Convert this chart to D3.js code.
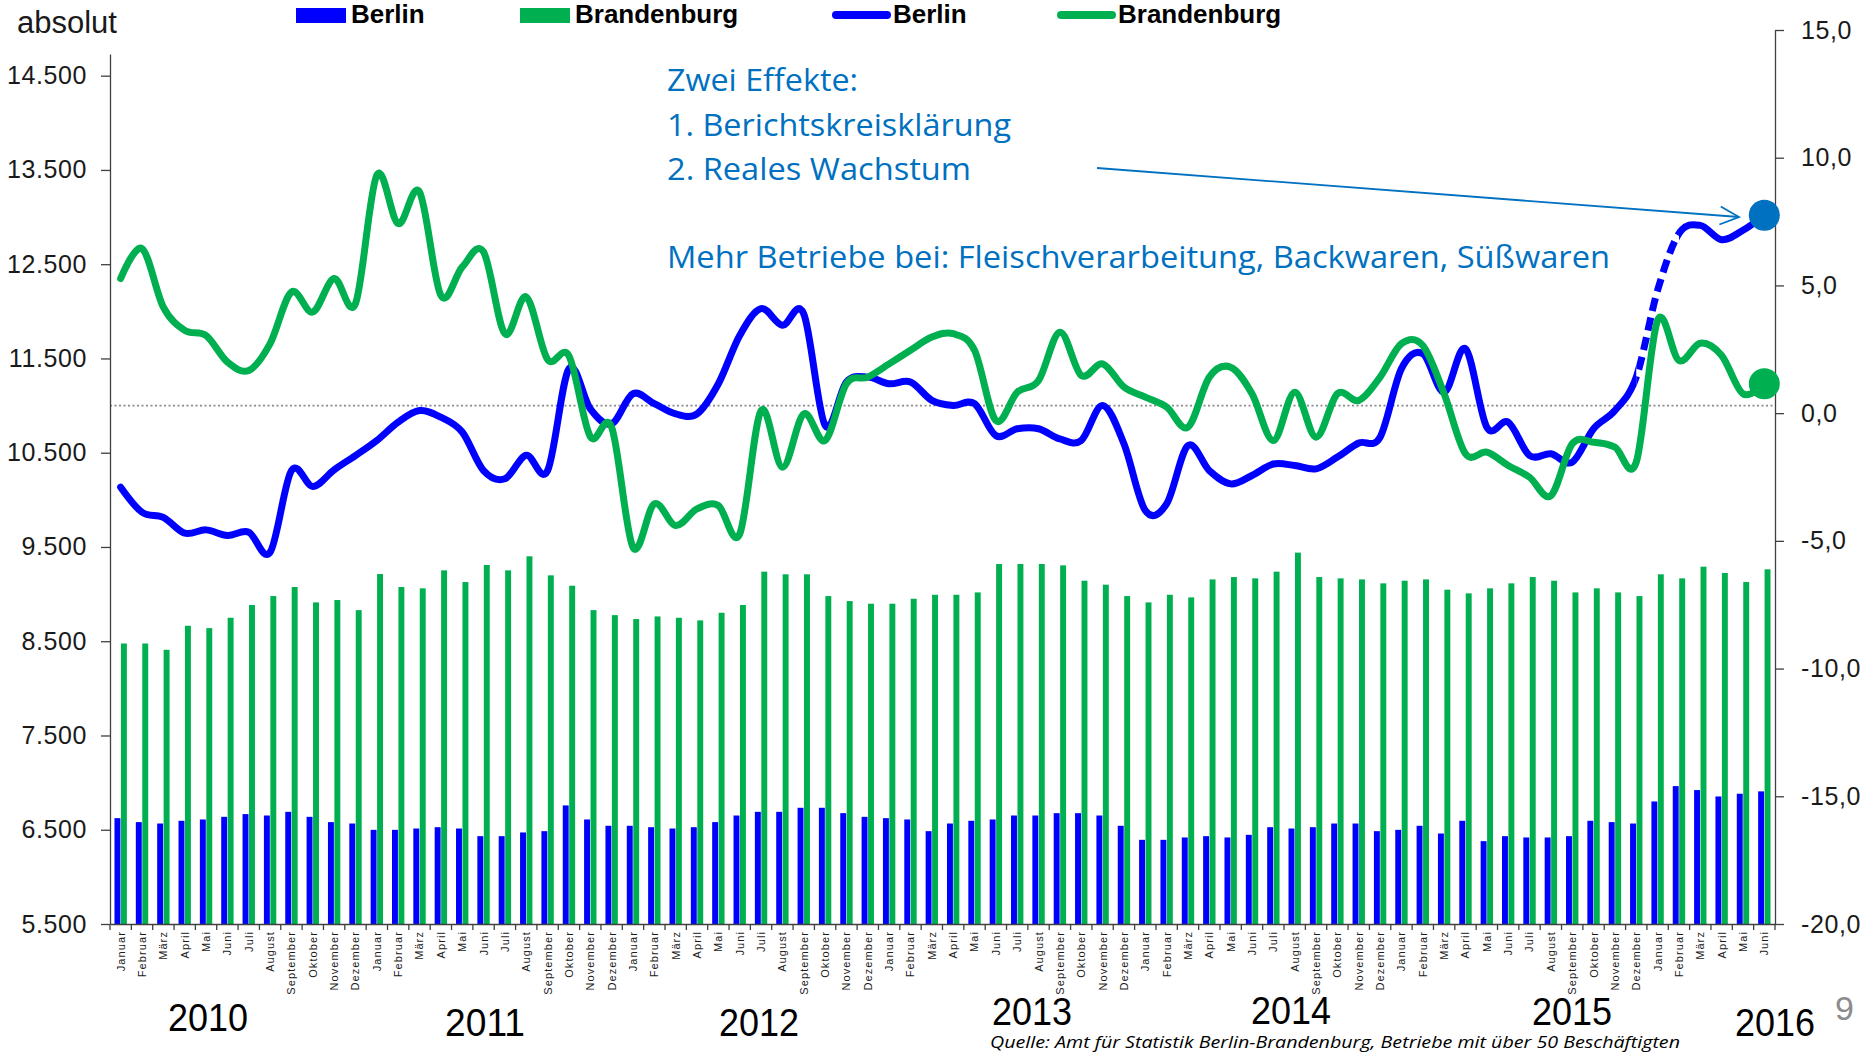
<!DOCTYPE html>
<html><head><meta charset="utf-8">
<script src="https://cdn.jsdelivr.net/npm/d3@7"></script>
<style>
html,body{margin:0;padding:0;background:#fff;}
svg{display:block;}
</style></head><body>
<svg id="chart" width="1872" height="1052"></svg>
<script>
// ---------------- DATA ----------------
const monthNames = ["Januar","Februar","März","April","Mai","Juni","Juli","August","September","Oktober","November","Dezember"];
const yearLabels = ["2010","2011","2012","2013","2014","2015","2016"];
const monthsIn2016 = 6;
const seriesNames = ["Berlin","Brandenburg"];

// absolute values (bars, left axis)
const berlinAbs = [6623,6581,6566,6595,6609,6637,6666,6651,6690,6637,6581,6566,
  6499,6499,6513,6527,6513,6432,6432,6471,6485,6758,6609,6542,
  6542,6527,6513,6527,6581,6651,6690,6690,6733,6733,6676,6637,
  6623,6609,6485,6566,6595,6609,6651,6651,6676,6676,6651,6542,
  6393,6393,6418,6432,6418,6446,6527,6513,6527,6566,6566,6485,
  6499,6542,6460,6595,6379,6432,6418,6418,6432,6595,6581,6566,
  6800,6963,6921,6853,6882,6907];
const brandAbs = [8476,8476,8409,8664,8639,8749,8884,8979,9075,8912,8937,8830,
  9213,9075,9061,9252,9128,9309,9252,9401,9199,9089,8830,8777,
  8735,8763,8749,8721,8802,8884,9238,9210,9210,8979,8926,8898,
  8898,8951,8993,8993,9018,9319,9319,9319,9305,9142,9100,8979,
  8912,8993,8965,9156,9181,9167,9238,9440,9181,9167,9156,9114,
  9142,9156,9047,9008,9061,9114,9181,9142,9018,9061,9018,8979,
  9210,9167,9291,9224,9128,9263];

// change in % (lines, right axis)
const berlinPct = [-2.90,-3.88,-4.08,-4.70,-4.57,-4.79,-4.66,-5.45,-2.25,-2.87,-2.22,-1.66,
  -1.07,-0.35,0.10,-0.16,-0.74,-2.25,-2.57,-1.65,-2.25,1.74,0.17,-0.42,
  0.76,0.37,-0.03,-0.03,1.15,3.04,4.09,3.44,3.89,-0.48,1.22,1.41,
  1.15,1.22,0.50,0.30,0.37,-0.88,-0.61,-0.61,-1.01,-1.07,0.30,-1.20,
  -3.81,-3.55,-1.27,-2.25,-2.77,-2.44,-1.99,-2.05,-2.18,-1.72,-1.17,-0.94,
  1.74,2.33,0.82,2.52,-0.55,-0.35,-1.66,-1.59,-1.92,-0.61,0.10,1.41,
  4.81,7.03,7.35,6.79,7.16,7.75];
const brandPct = [5.27,6.44,4.15,3.24,3.04,2.00,1.67,2.72,4.74,3.96,5.27,4.29,
  9.32,7.42,8.66,4.61,5.72,6.31,3.11,4.55,2.10,2.24,-0.92,-0.55,
  -5.25,-3.55,-4.40,-3.75,-3.62,-4.73,0.10,-2.12,-0.03,-1.07,1.15,1.41,
  1.93,2.46,2.98,3.11,2.46,-0.29,0.82,1.28,3.17,1.48,1.93,1.02,
  0.63,0.24,-0.55,1.41,1.80,0.76,-1.07,0.82,-0.94,0.76,0.50,1.41,
  2.72,2.65,0.76,-1.59,-1.53,-2.05,-2.51,-3.23,-1.20,-1.14,-1.33,-1.92,
  3.63,2.06,2.74,2.26,0.76,1.15];
const berlinDashedFrom = 71, berlinDashedTo = 73;

const leftTicks = [5500,6500,7500,8500,9500,10500,11500,12500,13500,14500];
const rightTicks = [-20,-15,-10,-5,0,5,10,15];
const referenceLevel = 11000;

const annotationLines = ["Zwei Effekte:","1. Berichtskreisklärung","2. Reales Wachstum","Mehr Betriebe bei: Fleischverarbeitung, Backwaren, Süßwaren"];
const sourceText = "Quelle: Amt für Statistik Berlin-Brandenburg, Betriebe mit über 50 Beschäftigten";
const pageNumber = "9";
const axisTitle = "absolut";

// ---------------- BUILD ----------------
const periods = [];
yearLabels.forEach((y, yi) => {
  const n = (yi === yearLabels.length - 1) ? monthsIn2016 : 12;
  for (let m = 0; m < n; m++) periods.push(y + "-" + m);
});
const monthOf = p => monthNames[+p.split("-")[1]];

const BLUE = "#0000FF", GREEN = "#00B050", ANN = "#0070C0", AXIS = "#404040", TXT = "#1a1a1a";
const FONT = "'Liberation Sans', Arial, Helvetica, sans-serif";

const svg = d3.select("#chart");
const de = d3.formatLocale({decimal: ",", thousands: ".", grouping: [3], currency: ["", "€"], minus: "-"});

const x = d3.scaleBand().domain(periods).range([110, 1775]).paddingInner(0.42).paddingOuter(0.21);
const xs = d3.scaleBand().domain(seriesNames).range([0, x.bandwidth()]).paddingInner(0.08);
const yL = d3.scaleLinear().domain([5500, 14730]).range([924, 54]);
const yR = d3.scaleLinear().domain([-20, 15]).range([924, 30]);
const cx = p => x(p) + x.bandwidth() / 2;

// bars
const barData = periods.map((p, i) => ({p, Berlin: berlinAbs[i], Brandenburg: brandAbs[i]}));
const barColor = {Berlin: BLUE, Brandenburg: GREEN};
const gBars = svg.append("g");
gBars.selectAll("g").data(barData).join("g")
  .attr("transform", d => `translate(${x(d.p)},0)`)
  .selectAll("rect").data(d => seriesNames.map(s => ({s, v: d[s]}))).join("rect")
  .attr("x", d => xs(d.s)).attr("width", xs.bandwidth())
  .attr("y", d => yL(d.v)).attr("height", d => yL.range()[0] - yL(d.v))
  .attr("fill", d => barColor[d.s]);

// dotted reference line
svg.append("line")
  .attr("x1", x.range()[0]).attr("x2", x.range()[1])
  .attr("y1", yL(referenceLevel)).attr("y2", yL(referenceLevel))
  .attr("stroke", "#8a8a8a").attr("stroke-width", 1.6).attr("stroke-dasharray", "2,2.5");

// axes
const gL = svg.append("g").attr("transform", `translate(${x.range()[0]},0)`)
  .call(d3.axisLeft(yL).tickValues(leftTicks).tickSize(9).tickSizeOuter(0).tickPadding(14).tickFormat(de.format(",")));
const gR = svg.append("g").attr("transform", `translate(${x.range()[1]},0)`)
  .call(d3.axisRight(yR).tickValues(rightTicks).tickSize(9).tickSizeOuter(0).tickPadding(17).tickFormat(de.format(",.1f")));
[gL, gR].forEach(g => {
  g.select(".domain").attr("stroke", AXIS).attr("stroke-width", 1.3);
  g.selectAll(".tick line").attr("stroke", AXIS).attr("stroke-width", 1.3);
  g.selectAll(".tick text").attr("font-family", FONT).attr("font-size", 25).attr("fill", TXT).attr("letter-spacing", 0.6);
});

// x axis
const gX = svg.append("g").attr("transform", `translate(0,${yL.range()[0]})`)
  .call(d3.axisBottom(x).tickSize(0).tickPadding(0).tickFormat(monthOf));
gX.select(".domain").attr("stroke", AXIS).attr("stroke-width", 1.3);
gX.selectAll(".tick text")
  .attr("transform", "rotate(-90)").attr("text-anchor", "end")
  .attr("x", -7).attr("y", 0).attr("dy", "0.36em")
  .attr("font-family", FONT).attr("font-size", 11).attr("letter-spacing", 1.1).attr("fill", TXT);
const boundaries = periods.map(p => x(p) - x.step() * x.paddingInner() / 2).concat([x.range()[1]]);
gX.selectAll("line.bnd").data(boundaries).join("line").attr("class", "bnd")
  .attr("x1", d => d).attr("x2", d => d).attr("y1", 0).attr("y2", 6)
  .attr("stroke", AXIS).attr("stroke-width", 1.3);

// lines
const lineGen = d3.line().x((d, i) => cx(periods[i])).y(d => yR(d)).curve(d3.curveCardinal.tension(0));
const defs = svg.append("defs");
const xa = cx(periods[berlinDashedFrom]), xb = cx(periods[berlinDashedTo]);
[["clipA", 0, xa], ["clipB", xa, xb], ["clipC", xb, 1872]].forEach(([id, a, b]) => {
  defs.append("clipPath").attr("id", id).append("rect").attr("x", a).attr("y", 0).attr("width", b - a).attr("height", 1052);
});
svg.append("path").attr("d", lineGen(berlinPct)).attr("fill", "none").attr("stroke", BLUE)
  .attr("stroke-width", 7).attr("stroke-linejoin", "round").attr("stroke-linecap", "round").attr("clip-path", "url(#clipA)");
svg.append("path").attr("d", lineGen(berlinPct)).attr("fill", "none").attr("stroke", BLUE)
  .attr("stroke-width", 7).attr("stroke-dasharray", "13,7").attr("clip-path", "url(#clipB)");
svg.append("path").attr("d", lineGen(berlinPct)).attr("fill", "none").attr("stroke", BLUE)
  .attr("stroke-width", 7).attr("stroke-linejoin", "round").attr("stroke-linecap", "round").attr("clip-path", "url(#clipC)");
svg.append("path").attr("d", lineGen(brandPct)).attr("fill", "none").attr("stroke", GREEN)
  .attr("stroke-width", 7).attr("stroke-linejoin", "round").attr("stroke-linecap", "round");

// end dots
const last = periods.length - 1;
svg.append("circle").attr("cx", cx(periods[last])).attr("cy", yR(berlinPct[last])).attr("r", 15.5).attr("fill", ANN);
svg.append("circle").attr("cx", cx(periods[last])).attr("cy", yR(brandPct[last])).attr("r", 15.5).attr("fill", GREEN);

// annotation
const annFont = "'Open Sans', 'Noto Sans', sans-serif";
const annY = [91, 136, 180, 268];
const annW = [191, 344, 304, 943];
annotationLines.forEach((t, i) => {
  svg.append("text").attr("x", 667).attr("y", annY[i]).text(t)
    .attr("font-family", annFont).attr("font-size", 31).attr("fill", ANN)
    .attr("textLength", annW[i]).attr("lengthAdjust", "spacingAndGlyphs");
});
defs.append("marker").attr("id", "arr").attr("markerUnits", "userSpaceOnUse")
  .attr("markerWidth", 24).attr("markerHeight", 24).attr("refX", 20).attr("refY", 10)
  .attr("orient", "auto").attr("viewBox", "0 0 24 20")
  .append("path").attr("d", "M1,1 L20,10 L1,19").attr("fill", "none").attr("stroke", ANN).attr("stroke-width", 1.8);
svg.append("line").attr("x1", 1097).attr("y1", 168).attr("x2", 1739).attr("y2", 217)
  .attr("stroke", ANN).attr("stroke-width", 1.8).attr("marker-end", "url(#arr)");

// title & legend
svg.append("text").attr("x", 17).attr("y", 33).text(axisTitle)
  .attr("font-family", FONT).attr("font-size", 31).attr("fill", TXT);
const legend = [
  {label: seriesNames[0], color: BLUE, type: "rect", x: 296},
  {label: seriesNames[1], color: GREEN, type: "rect", x: 520},
  {label: seriesNames[0], color: BLUE, type: "line", x: 833},
  {label: seriesNames[1], color: GREEN, type: "line", x: 1058}
];
legend.forEach(l => {
  if (l.type === "rect") {
    svg.append("rect").attr("x", l.x).attr("y", 8).attr("width", 50).attr("height", 15).attr("fill", l.color);
    svg.append("text").attr("x", l.x + 55).attr("y", 23).text(l.label)
      .attr("font-family", FONT).attr("font-weight", "bold").attr("font-size", 26).attr("fill", "#000");
  } else {
    svg.append("line").attr("x1", l.x + 3).attr("x2", l.x + 54).attr("y1", 15).attr("y2", 15)
      .attr("stroke", l.color).attr("stroke-width", 8).attr("stroke-linecap", "round");
    svg.append("text").attr("x", l.x + 60).attr("y", 23).text(l.label)
      .attr("font-family", FONT).attr("font-weight", "bold").attr("font-size", 26).attr("fill", "#000");
  }
});

// year labels
const yearPos = [[208, 1031], [485, 1036], [759, 1036], [1032, 1025], [1291, 1024], [1572, 1025], [1775, 1036]];
yearLabels.forEach((y, i) => {
  svg.append("text").attr("x", yearPos[i][0] - 40).attr("y", yearPos[i][1]).text(y)
    .attr("font-family", FONT).attr("font-size", 38).attr("fill", "#000")
    .attr("textLength", 80).attr("lengthAdjust", "spacingAndGlyphs");
});

// page number & source
svg.append("text").attr("x", 1835).attr("y", 1020).text(pageNumber)
  .attr("font-family", FONT).attr("font-size", 34).attr("fill", "#8c8c8c");
svg.append("text").attr("x", 990).attr("y", 1048).text(sourceText)
  .attr("font-family", annFont).attr("font-style", "italic").attr("font-size", 15.5).attr("fill", "#000")
  .attr("textLength", 690).attr("lengthAdjust", "spacingAndGlyphs");
</script>
</body></html>
